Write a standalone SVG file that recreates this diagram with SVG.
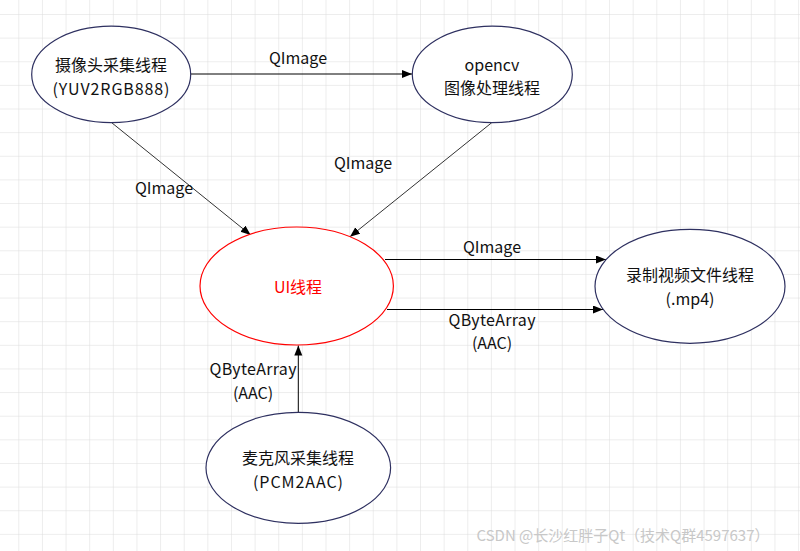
<svg xmlns="http://www.w3.org/2000/svg" width="800" height="551" viewBox="0 0 800 551">
<defs>
<pattern id="grid" x="18.3" y="14" width="23.63" height="23.63" patternUnits="userSpaceOnUse">
<path d="M0,0 H23.63 M0,0 V23.63" fill="none" stroke="#dcdcdc" stroke-width="1"/>
</pattern>
<marker id="arr" markerUnits="userSpaceOnUse" markerWidth="12" markerHeight="10" refX="10" refY="4" orient="auto">
<path d="M0,0 L10,4 L0,8 z" fill="#000"/>
</marker>
<style>
.node ellipse{fill:#fff;stroke:#2e3060;stroke-width:1.2}
.t{font-family:"Noto Sans CJK SC","Liberation Sans",sans-serif;font-size:16px;fill:#111;text-anchor:middle;dominant-baseline:central}
.lbl{font-family:"Noto Sans CJK SC","Liberation Sans",sans-serif;font-size:16px;fill:#111;text-anchor:middle;dominant-baseline:central}
.edge{stroke:#000;stroke-width:1;fill:none;marker-end:url(#arr)}
.diag{stroke:#333}
</style>
</defs>
<rect width="800" height="551" fill="#fff"/>
<rect width="800" height="551" fill="url(#grid)"/>
<g id="connectors">
<path class="edge" d="M190.7,74 L412,74"/>
<path class="edge diag" d="M111.7,122.7 L250.7,235"/>
<path class="edge diag" d="M491.7,122.7 L350,236.7"/>
<path class="edge" d="M385,259.5 L606,259.5"/>
<path class="edge" d="M387,309.5 L603,309.5"/>
<path class="edge" d="M298.3,412 L298.3,345.5"/>
<text class="lbl" x="298" y="57">QImage</text>
<text class="lbl" x="164" y="187">QImage</text>
<text class="lbl" x="363" y="161.5">QImage</text>
<text class="lbl" x="492" y="246">QImage</text>
<text class="lbl" x="492" y="319" textLength="87" lengthAdjust="spacing">QByteArray</text>
<text class="lbl" x="492" y="342">(AAC)</text>
<text class="lbl" x="253" y="368" textLength="87" lengthAdjust="spacing">QByteArray</text>
<text class="lbl" x="253" y="392">(AAC)</text>
</g>
<g id="camera" class="node">
<ellipse cx="111.2" cy="74.4" rx="79.5" ry="48.3"/>
<text class="t" x="111" y="64">摄像头采集线程</text>
<text class="t" x="111" y="88" textLength="117" lengthAdjust="spacing">(YUV2RGB888)</text>
</g>
<g id="opencv" class="node">
<ellipse cx="492.3" cy="74.4" rx="80" ry="48.3"/>
<text class="t" x="492" y="64">opencv</text>
<text class="t" x="492" y="87">图像处理线程</text>
</g>
<g id="ui" class="node">
<ellipse cx="296.7" cy="286" rx="96.7" ry="59" style="stroke:#ff0000"/>
<text class="t" x="298" y="286" style="fill:#ff0000">UI线程</text>
</g>
<g id="record" class="node">
<ellipse cx="690" cy="286.3" rx="95" ry="57"/>
<text class="t" x="690" y="274">录制视频文件线程</text>
<text class="t" x="690" y="298">(.mp4)</text>
</g>
<g id="mic" class="node">
<ellipse cx="298.3" cy="467.8" rx="92.3" ry="55.5"/>
<text class="t" x="298" y="457">麦克风采集线程</text>
<text class="t" x="298" y="481" textLength="90" lengthAdjust="spacing">(PCM2AAC)</text>
</g>
<text x="623" y="534" style="font-family:'Noto Sans CJK SC','Liberation Sans',sans-serif;font-size:15px;fill:#c8c8c8;text-anchor:middle;dominant-baseline:central">CSDN @长沙红胖子Qt（技术Q群4597637）</text>
</svg>
